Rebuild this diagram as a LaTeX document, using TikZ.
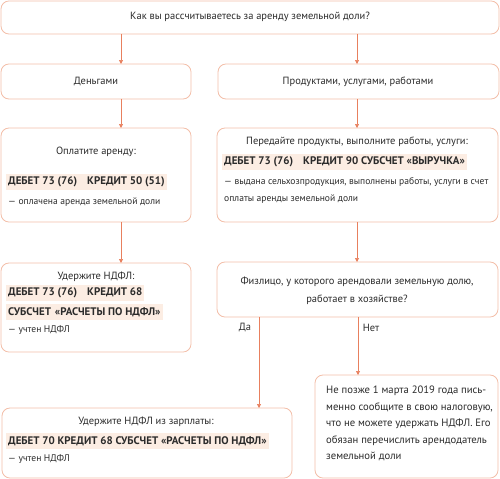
\documentclass[tikz,border=0pt]{standalone}
\usepackage{fontspec}
\setmainfont{PT Sans}
\usetikzlibrary{arrows.meta}
\definecolor{bord}{HTML}{F3BFA9}
\definecolor{arrc}{HTML}{E8805E}
\definecolor{hl}{HTML}{FCEDE3}
\definecolor{txt}{HTML}{2B2B2B}
\tikzset{
  box/.style={draw=bord, line width=0.8pt, rounded corners=8pt, fill=white, inner sep=0pt, outer sep=0pt, anchor=north west},
  arr/.style={draw=arrc, line width=0.7pt, -{Triangle[length=4pt,width=4pt]}},
  main/.style={font=\fontsize{10.5}{12}\selectfont, text=txt, inner sep=0pt},
  small/.style={font=\fontsize{9.6}{10}\selectfont, text=txt, inner sep=0pt, anchor=west},
  bold/.style={font=\fontsize{11}{12}\selectfont\bfseries, text=txt, fill=hl, inner xsep=2pt, inner ysep=3pt, anchor=west},
}
\begin{document}
\begin{tikzpicture}[x=1bp, y=-1bp]
\useasboundingbox (0,0) rectangle (500,479);
% boxes
\node[box, minimum width=498bp, minimum height=33bp] (top) at (1,1) {};
\node[box, minimum width=190bp, minimum height=35bp] (den) at (1,64) {};
\node[box, minimum width=281bp, minimum height=35bp] (prod) at (218,64) {};
\node[box, minimum width=190bp, minimum height=94bp] (opl) at (1,128) {};
\node[box, minimum width=281bp, minimum height=94bp] (per) at (217,128) {};
\node[box, minimum width=190bp, minimum height=89bp] (ud) at (1,263) {};
\node[box, minimum width=281bp, minimum height=55bp] (fiz) at (217,262) {};
\node[box, minimum width=290bp, minimum height=70bp] (ud2) at (2,408) {};
\node[box, minimum width=183bp, minimum height=103bp] (ne) at (315,375) {};
% connector x-positions
\coordinate (xl) at (121,0);
\coordinate (xr) at (357,0);
\coordinate (xda) at (259,0);
\coordinate (xnet) at (358,0);
% connectors
\draw[arr] (top.south -| xl) -- (den.north -| xl);
\draw[arr] (top.south -| xr) -- (prod.north -| xr);
\draw[arr] (den.south -| xl) -- (opl.north -| xl);
\draw[arr] (prod.south -| xr) -- (per.north -| xr);
\draw[arr] (opl.south -| xl) -- (ud.north -| xl);
\draw[arr] (per.south -| xr) -- (fiz.north -| xr);
\draw[arr] (fiz.south -| xda) -- (ud2.north -| xda);
\draw[arr] (fiz.south -| xnet) -- (ne.north -| xnet);
% texts
\node[main] (t1) at (250,17) {Как вы рассчитываетесь за аренду земельной доли?};
\node[main] (t2) at (96,82) {Деньгами};
\node[main] (t3) at (358,82) {Продуктами, услугами, работами};
% opl
\node[main] (t4) at (96,152) {Оплатите аренду:};
\node[bold] (t5) at (6,182) {ДЕБЕТ 73 (76)\hspace{10bp}КРЕДИТ 50 (51)};
\node[small] (t6) at (8,202) {— оплачена аренда земельной доли};
% per
\node[main] (t7) at (357,142) {Передайте продукты, выполните работы, услуги:};
\node[bold] (t8) at (222,162) {ДЕБЕТ 73 (76)\hspace{10bp}КРЕДИТ 90 СУБСЧЕТ «ВЫРУЧКА»};
\node[small] (t9) at (224,182) {— выдана сельхозпродукция, выполнены работы, услуги в счет};
\node[small] (t10) at (224,199) {оплаты аренды земельной доли};
% ud
\node[main] (t11) at (96,277) {Удержите НДФЛ:};
\node[bold] (t12) at (6,293) {ДЕБЕТ 73 (76)\hspace{10bp}КРЕДИТ 68};
\node[bold] (t13) at (6,312) {СУБСЧЕТ\hspace{4bp}«РАСЧЕТЫ ПО НДФЛ»};
\node[small] (t14) at (8,330) {— учтен НДФЛ};
% fiz
\node[main] (t15) at (357,282) {Физлицо, у которого арендовали земельную долю,};
\node[main] (t16) at (357,300) {работает в хозяйстве?};
\node[main] (da) at (245,328) {Да};
\node[main] (net) at (371,328) {Нет};
% ud2
\node[main] (t17) at (146,422) {Удержите НДФЛ из зарплаты:};
\node[bold] (t18) at (6,441) {ДЕБЕТ 70 КРЕДИТ 68 СУБСЧЕТ «РАСЧЕТЫ ПО НДФЛ»};
\node[small] (t19) at (8,459) {— учтен НДФЛ};
% ne
\node[main, anchor=north west, align=left, font=\fontsize{10.7}{16.5}\selectfont] (t20) at (326,386) {Не позже 1 марта 2019 года пись-\\менно сообщите в свою налоговую,\\что не можете удержать НДФЛ. Его\\обязан перечислить арендодатель\\земельной доли};
\end{tikzpicture}
\end{document}
